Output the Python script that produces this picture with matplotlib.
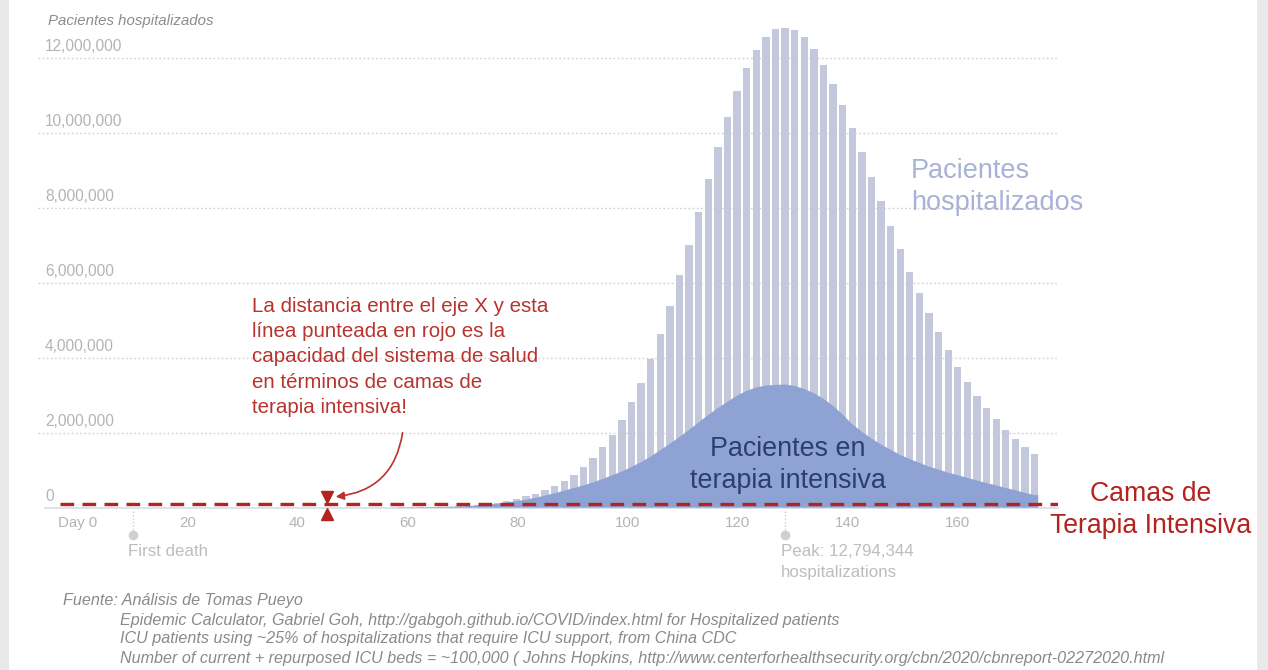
import numpy as np
import matplotlib
matplotlib.use("Agg")
import matplotlib.pyplot as plt
from matplotlib.patches import Rectangle
import matplotlib.transforms as mtransforms

plt.rcParams['font.family'] = ['Liberation Sans', 'DejaVu Sans']

# ---------------- data ----------------
day_start = 58.85
day_step = 1.745
# hospitalized patients (millions), one bar per step
hosp = [0.005, 0.007, 0.010, 0.014, 0.019, 0.026, 0.035, 0.048, 0.065, 0.09,
        0.13, 0.17, 0.23, 0.30, 0.37, 0.47, 0.57, 0.71, 0.87, 1.08,
        1.32, 1.61, 1.93, 2.33, 2.81, 3.33, 3.95, 4.64, 5.38, 6.19,
        7.01, 7.88, 8.77, 9.61, 10.41, 11.11, 11.73, 12.21, 12.56, 12.76,
        12.794344, 12.74, 12.55, 12.22, 11.80, 11.30, 10.73, 10.13, 9.48, 8.82,
        8.17, 7.51, 6.89, 6.29, 5.73, 5.18, 4.67, 4.20, 3.76, 3.35,
        2.98, 2.66, 2.35, 2.07, 1.83, 1.61, 1.42]
# ICU patients (millions)
icu = [0.002, 0.004, 0.007, 0.010, 0.015, 0.020, 0.030, 0.040, 0.055, 0.075,
       0.10, 0.13, 0.17, 0.21, 0.26, 0.32, 0.38, 0.45, 0.52, 0.59,
       0.67, 0.76, 0.86, 0.96, 1.08, 1.21, 1.36, 1.53, 1.70, 1.88,
       2.07, 2.27, 2.47, 2.65, 2.82, 2.98, 3.11, 3.20, 3.25, 3.27,
       3.28, 3.24, 3.16, 3.05, 2.90, 2.71, 2.48, 2.22, 2.02, 1.84,
       1.68, 1.54, 1.40, 1.29, 1.19, 1.09, 1.01, 0.93, 0.86, 0.79,
       0.72, 0.65, 0.59, 0.52, 0.46, 0.39, 0.33]
icu_beds = 0.1  # millions (~100,000)
x_ticks = [0, 20, 40, 60, 80, 100, 120, 140, 160]
x_tick_labels = ["Day 0", "20", "40", "60", "80", "100", "120", "140", "160"]
y_ticks = [0, 2, 4, 6, 8, 10, 12]
y_tick_labels = ["0", "2,000,000", "4,000,000", "6,000,000", "8,000,000",
                 "10,000,000", "12,000,000"]
first_death_day = 10
peak_value = 12794344

# ---------------- figure ----------------
W, H = 1268, 670
fig = plt.figure(figsize=(W / 100, H / 100), dpi=100)
fig.patch.set_facecolor("white")

def fx(px):
    return px / W

def fy(py):
    return 1 - py / H

# side borders of the screenshot
fig.patches.append(Rectangle((0, 0), fx(9), 1, transform=fig.transFigure,
                             facecolor="#e9e9e9", edgecolor="none", zorder=0))
fig.patches.append(Rectangle((fx(1257), 0), fx(11), 1, transform=fig.transFigure,
                             facecolor="#e9e9e9", edgecolor="none", zorder=0))

ax_l, ax_r, ax_t, ax_b = 38, 1058, 20, 507.5
ax = fig.add_axes([fx(ax_l), fy(ax_b), fx(ax_r - ax_l), (ax_b - ax_t) / H])
ax.set_facecolor("none")
px_per_day = 5.5
x0 = 77.5
ax.set_xlim((ax_l - x0) / px_per_day, (ax_r - x0) / px_per_day)
px_per_m = 37.5
ax.set_ylim(0, (ax_b - ax_t) / px_per_m)
for s in ax.spines.values():
    s.set_visible(False)
ax.set_xticks([])
ax.set_yticks([])

days = day_start + day_step * np.arange(len(hosp))
hosp_a = np.array(hosp)
icu_a = np.array(icu)
bw = day_step * 0.76

# gridlines
for v in y_ticks[1:]:
    ax.axhline(v, color="#cfcfcf", lw=1.0, ls=(0, (1.2, 1.8)), zorder=1)
ax.axhline(0, xmin=(45 - ax_l) / (ax_r - ax_l), color="#d5dbe8", lw=1.2, zorder=1,
           clip_on=False)

# y tick labels above gridlines
trans_y = mtransforms.blended_transform_factory(fig.transFigure, ax.transData)
for v, lab in zip(y_ticks, y_tick_labels):
    ax.annotate(lab, xy=(fx(45), v), xycoords=trans_y, xytext=(0, 2.5),
                textcoords="offset points", ha="left", va="bottom",
                fontsize=11.2, color="#b4b4b4")

# bars
ax.bar(days, hosp_a, width=bw, color="#c3c8dd", edgecolor="none", zorder=2)

# ICU area
x_fill = np.append(days, days[-1] + bw / 2)
y_fill = np.append(icu_a, icu_a[-1])
ax.fill_between(x_fill, 0, y_fill, color="#8ea3d3", edgecolor="none", zorder=3)

# ICU beds line
ax.plot([(60 - x0) / px_per_day, ax.get_xlim()[1]], [icu_beds, icu_beds],
        color="#b3231f", lw=2.4, dashes=(4.1, 2.5), zorder=5, solid_capstyle="butt")

# x tick labels
for d, lab in zip(x_ticks, x_tick_labels):
    ax.text(d, -0.42, lab, ha="center", va="center", fontsize=10.8,
            color="#b4b4b4", clip_on=False)

# first death marker
ax.plot([first_death_day, first_death_day], [-0.08, -0.7], color="#cccccc",
        lw=1, ls=(0, (1, 1.5)), clip_on=False, zorder=4)
ax.plot([first_death_day], [-0.72], "o", color="#d0d0d0", ms=6, clip_on=False)
fig.text(fx(128), fy(552), "First death", ha="left", va="center", fontsize=12.2,
         color="#bdbdbd")

# peak marker
peak_day = days[int(np.argmax(hosp_a))]
ax.plot([peak_day, peak_day], [-0.08, -0.7], color="#cccccc",
        lw=1, ls=(0, (1, 1.5)), clip_on=False, zorder=4)
ax.plot([peak_day], [-0.72], "o", color="#d0d0d0", ms=6, clip_on=False)
fig.text(fx(781), fy(552), "Peak: {:,}".format(peak_value), ha="left", va="center",
         fontsize=12.2, color="#bdbdbd")
fig.text(fx(781), fy(572), "hospitalizations", ha="left", va="center",
         fontsize=12.2, color="#bdbdbd")

# y axis title
fig.text(fx(48), fy(21), "Pacientes hospitalizados", ha="left", va="center",
         fontsize=10.8, style="italic", color="#8c8c8c")

# series labels
fig.text(fx(911), fy(187), "Pacientes\nhospitalizados", ha="left", va="center",
         fontsize=19.5, color="#a8b2d6", linespacing=1.31)
fig.text(fx(788), fy(465), "Pacientes en\nterapia intensiva", ha="center",
         va="center", fontsize=19.4, color="#2c3d70", linespacing=1.31)
fig.text(fx(1151), fy(510), "Camas de\nTerapia Intensiva", ha="center",
         va="center", fontsize=19.2, color="#b3231f", linespacing=1.31)

# red note
fig.text(fx(252), fy(357), "La distancia entre el eje X y esta\n"
         "línea punteada en rojo es la\ncapacidad del sistema de salud\n"
         "en términos de camas de\nterapia intensiva!", ha="left", va="center",
         fontsize=14.8, color="#b8332d", linespacing=1.42)

# triangles marking the capacity distance
tri_day = (327 - x0) / px_per_day
ax.plot([tri_day], [(ax_b - 496.5) / px_per_m], marker="v", color="#b3231f",
        ms=9, clip_on=False, zorder=6, ls="none")
ax.plot([tri_day], [(ax_b - 514) / px_per_m], marker="^", color="#b3231f",
        ms=9, clip_on=False, zorder=6, ls="none")

# arrow
ax.annotate("", xy=((333 - x0) / px_per_day, (ax_b - 497) / px_per_m),
            xytext=((403 - x0) / px_per_day, (ax_b - 430) / px_per_m),
            arrowprops=dict(arrowstyle="-|>", color="#b8332d", lw=1.2,
                            mutation_scale=12,
                            connectionstyle="arc3,rad=-0.4"),
            zorder=7)

# footer
fig.text(fx(63), fy(601), "Fuente: Análisis de Tomas Pueyo", ha="left", va="center",
         fontsize=11.6, style="italic", color="#8a8a8a")
footer = ["Epidemic Calculator, Gabriel Goh, http://gabgoh.github.io/COVID/index.html for Hospitalized patients",
          "ICU patients using ~25% of hospitalizations that require ICU support, from China CDC",
          "Number of current + repurposed ICU beds = ~100,000 ( Johns Hopkins, http://www.centerforhealthsecurity.org/cbn/2020/cbnreport-02272020.html"]
for i, line in enumerate(footer):
    fig.text(fx(120), fy(620 + 19 * i), line, ha="left", va="center",
             fontsize=11.6, style="italic", color="#8a8a8a")

fig.savefig("out.png", dpi=100, facecolor=fig.get_facecolor())
